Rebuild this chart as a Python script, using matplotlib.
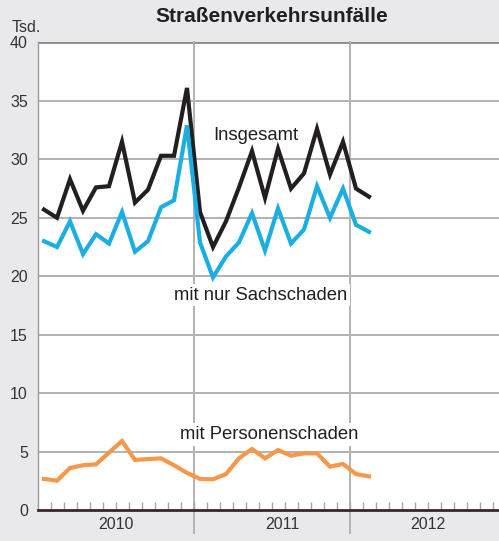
import numpy as np
import matplotlib.pyplot as plt

plt.rcParams['font.family'] = ['Liberation Sans', 'DejaVu Sans']

# Monatswerte Jan 2010 - Feb 2012, in Tsd.
insgesamt = [25.7, 25.0, 28.3, 25.6, 27.6, 27.7, 31.5, 26.3, 27.4, 30.3, 30.3, 36.1,
             25.5, 22.5, 24.7, 27.6, 30.7, 26.7, 30.9, 27.5, 28.8, 32.6, 28.7, 31.5,
             27.5, 26.8]
sachschaden = [23.0, 22.5, 24.7, 21.9, 23.6, 22.8, 25.5, 22.1, 23.0, 25.9, 26.5, 32.9,
               22.9, 19.9, 21.7, 22.9, 25.4, 22.2, 25.8, 22.8, 24.0, 27.7, 25.0, 27.5,
               24.4, 23.8]
personenschaden = [2.68, 2.53, 3.62, 3.85, 3.93, 4.93, 5.92, 4.30, 4.38, 4.44, 3.85, 3.2,
                   2.68, 2.65, 3.1, 4.44, 5.24, 4.44, 5.15, 4.67, 4.87, 4.87, 3.73, 3.96,
                   3.1, 2.9]
jahre = ['2010', '2011', '2012']
yticks = [0, 5, 10, 15, 20, 25, 30, 35, 40]

bg = '#e9e9eb'
grid = '#b2b2b2'

fig = plt.figure(figsize=(4.99, 5.41), dpi=100, facecolor=bg)
ax = fig.add_axes([37.5 / 499, 30.7 / 541, 1 - 37.5 / 499, 468 / 541])
ax.set_facecolor('white')

x = np.arange(len(insgesamt)) + 0.5
ax.set_xlim(0, 35.5)
ax.set_ylim(0, 40)

# Gitter
for v in yticks[1:-1]:
    ax.axhline(v, color=grid, lw=1.4, zorder=1)
ax.axhline(40, color='#8c8c8c', lw=2, zorder=1)
for xb in (12, 24):
    ax.plot([xb, xb], [-1.9, 40], color=grid, lw=1.4, zorder=1, clip_on=False)

ax.plot(x, insgesamt, color='#231f20', lw=3.0, zorder=3, solid_joinstyle='miter')
ax.plot(x, sachschaden, color='#1aaee2', lw=3.0, zorder=3, solid_joinstyle='miter')
ax.plot(x, personenschaden, color='#f7974a', lw=3.0, zorder=3, solid_joinstyle='miter')

box = dict(facecolor='white', edgecolor='none', pad=2)
ax.text(13.5, 32.0, 'Insgesamt', fontsize=13.3, color='#231f20', ha='left', va='center', zorder=4)
ax.text(17.2, 18.4, 'mit nur Sachschaden', fontsize=13.3, color='#231f20', ha='center',
        va='center', zorder=2, bbox=box)
ax.text(17.8, 6.5, 'mit Personenschaden', fontsize=13.3, color='#231f20', ha='center',
        va='center', zorder=2, bbox=box)

# Achsen
for s in ('top', 'right'):
    ax.spines[s].set_visible(False)
ax.spines['left'].set_color('#9a9a9a')
ax.spines['left'].set_linewidth(1)
ax.spines['bottom'].set_color('#3a2628')
ax.spines['bottom'].set_linewidth(2)
ax.spines['bottom'].set_zorder(5)

ax.set_yticks(yticks)
ax.set_yticklabels([str(v) for v in yticks])
ax.tick_params(axis='y', length=0, pad=7, labelsize=11.5, labelcolor='#333333')
ax.set_xticks(np.arange(1, 36))
ax.set_xticklabels([])
ax.tick_params(axis='x', direction='in', length=6, width=1, color='#a5a5a5')

for i, j in enumerate(jahre):
    xp = [6, 18.8, 30][i]
    ax.text(xp, -1.2, j, fontsize=11.5, color='#333333', ha='center', va='center')

fig.text(12 / 499, 1 - 27 / 541, 'Tsd.', fontsize=11.5, color='#333333', ha='left', va='center')
fig.text(272 / 499, 1 - 17 / 541, 'Straßenverkehrsunfälle', fontsize=15, fontweight='bold',
         color='#231f20', ha='center', va='center')

fig.savefig('out.png', dpi=100, facecolor=bg)
